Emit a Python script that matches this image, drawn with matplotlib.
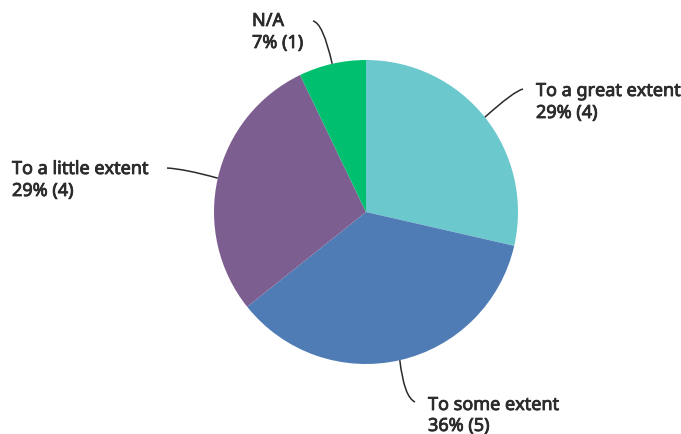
import numpy as np
import matplotlib.pyplot as plt
import matplotlib.patheffects as pe
from matplotlib.path import Path
from matplotlib.patches import PathPatch

# answer categories, clockwise from 12 o'clock
categories = ["To a great extent", "To some extent", "To a little extent", "N/A"]
counts = [4, 5, 4, 1]
colors = ["#6BC8CD", "#507CB6", "#7D5E90", "#00BF6F"]

W, H = 681, 435
fig = plt.figure(figsize=(W / 100, H / 100), dpi=100)
ax = fig.add_axes([0, 0, 1, 1])

cx, cy, r = 366, H - 213, 152
ax.pie(counts, colors=colors, startangle=90, counterclock=False,
       center=(cx, cy), radius=r, wedgeprops=dict(linewidth=0))
ax.set_xlim(0, W)
ax.set_ylim(0, H)
ax.set_aspect("equal")
ax.axis("off")

total = sum(counts)
pcts = [round(100 * c / total) for c in counts]

# leader line: bend point and end point, then text x and the two baselines
# (pixels from top-left)
layout = {
    "To a great extent": ((514, 92), (523, 90), 536, (97, 119)),
    "To some extent": ((404, 398), (415, 403), 428, (411, 432)),
    "To a little extent": ((185, 170), (167, 169), 12, (175, 197)),
    "N/A": ((323, 24), (313, 22), 252, (27, 49)),
}

# slightly heavier strokes for the label text
heavy = [pe.withStroke(linewidth=0.6, foreground="#2b2b2b")]

cum = 0
for cat, c, p in zip(categories, counts, pcts):
    mid = np.deg2rad(90 - 360 * (cum + c / 2) / total)
    cum += c
    sx, sy = cx + r * np.cos(mid), cy + r * np.sin(mid)
    (kx, ky), (ex, ey), tx, (b1, b2) = layout[cat]
    path = Path([(sx, sy), (kx, H - ky), (ex, H - ey)],
                [Path.MOVETO, Path.CURVE3, Path.CURVE3])
    ax.add_patch(PathPatch(path, fill=False, lw=1.1, color="#2b2b2b"))
    for line, b in ((cat, b1), (f"{p}% ({c})", b2)):
        ax.text(tx, H - b, line, ha="left", va="baseline",
                fontsize=13, family="Noto Sans", color="#2b2b2b",
                path_effects=heavy)

fig.savefig("out.png", dpi=100)
